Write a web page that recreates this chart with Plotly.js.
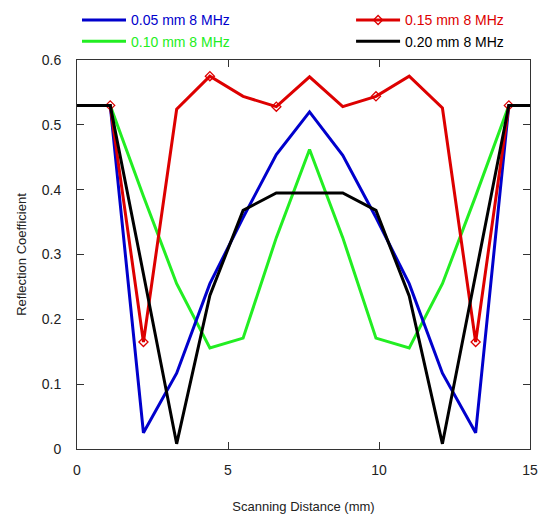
<!DOCTYPE html>
<html>
<head>
<meta charset="utf-8">
<script src="https://cdn.plot.ly/plotly-3.0.1.min.js"></script>
<style>html,body{margin:0;padding:0;background:#fff;}#chart{width:541px;height:518px;}</style>
</head>
<body>
<div id="chart"></div>
<script>
// Scanning positions (mm)
var distance = [0, 1.1, 2.2, 3.3, 4.4, 5.5, 6.6, 7.7, 8.8, 9.9, 11.0, 12.1, 13.2, 14.3, 15];
var d005 = [0.53, 0.53, 0.025, 0.117, 0.255, 0.357, 0.454, 0.52, 0.453, 0.357, 0.255, 0.117, 0.025, 0.53, 0.53];
var d010 = [0.53, 0.53, 0.39, 0.255, 0.156, 0.171, 0.326, 0.462, 0.326, 0.171, 0.156, 0.255, 0.39, 0.53, 0.53];
var d015 = [0.53, 0.53, 0.165, 0.524, 0.575, 0.544, 0.528, 0.574, 0.528, 0.544, 0.575, 0.526, 0.165, 0.53, 0.53];
var d020 = [0.53, 0.53, 0.27, 0.008, 0.237, 0.368, 0.395, 0.395, 0.395, 0.368, 0.236, 0.008, 0.27, 0.53, 0.53];
var seriesNames = ['0.05 mm 8 MHz', '0.10 mm 8 MHz', '0.15 mm 8 MHz', '0.20 mm 8 MHz'];
var redMarkedIdx = [1, 2, 4, 6, 9, 12, 13];

var colors = ['#0000CC', '#22EE22', '#DD0000', '#000000'];
function nm(i){ return '<span style="color:' + colors[i] + '">' + seriesNames[i] + '</span>'; }

var traces = [
  {x: distance, y: d010, mode: 'lines', name: nm(1), line: {color: colors[1], width: 3}, legend: 'legend', legendrank: 2},
  {x: distance, y: d005, mode: 'lines', name: nm(0), line: {color: colors[0], width: 3}, legend: 'legend', legendrank: 1},
  {x: distance, y: d015, mode: 'lines+markers', name: nm(2), line: {color: colors[2], width: 3},
   marker: {symbol: 'diamond-open', size: 7, color: colors[2], line: {width: 1.3, color: colors[2]}},
   selectedpoints: redMarkedIdx, selected: {marker: {opacity: 1}}, unselected: {marker: {opacity: 0}},
   legend: 'legend2', legendrank: 1},
  {x: distance, y: d020, mode: 'lines', name: nm(3), line: {color: colors[3], width: 3}, legend: 'legend2', legendrank: 2}
];

var fam = 'Liberation Sans, Arial, sans-serif';
var layout = {
  width: 541, height: 518,
  margin: {l: 77, r: 11, t: 60, b: 69, autoexpand: false},
  paper_bgcolor: '#fff', plot_bgcolor: '#fff',
  font: {family: fam, size: 13, color: '#222'},
  showlegend: true,
  xaxis: {
    range: [0, 15], tickvals: [0, 5, 10, 15], ticktext: ['0', '5', '10', '15'],
    ticks: 'inside', ticklen: 7, tickcolor: '#333', tickwidth: 1,
    showline: true, linecolor: '#333', linewidth: 1, mirror: 'ticks',
    showgrid: false, zeroline: false, ticklabelstandoff: 8,
    tickfont: {family: fam, size: 14, color: '#222'},
    title: {text: 'Scanning Distance (mm)', font: {family: fam, size: 13, color: '#222'}, standoff: 25}
  },
  yaxis: {
    range: [0, 0.6], tickvals: [0, 0.1, 0.2, 0.3, 0.4, 0.5, 0.6], ticktext: ['0', '0.1', '0.2', '0.3', '0.4', '0.5', '0.6'],
    ticks: 'inside', ticklen: 7, tickcolor: '#333', tickwidth: 1,
    showline: true, linecolor: '#333', linewidth: 1, mirror: 'ticks',
    showgrid: false, zeroline: false, ticklabelstandoff: 12,
    tickfont: {family: fam, size: 14, color: '#222'},
    title: {text: 'Reflection Coefficient', font: {family: fam, size: 13, color: '#222'}, standoff: 12}
  },
  legend: {x: 0.0, y: 1.143, xanchor: 'left', yanchor: 'top', orientation: 'v', bgcolor: 'rgba(0,0,0,0)',
           font: {family: fam, size: 14}, tracegroupgap: 0, traceorder: 'normal', itemwidth: 44},
  legend2: {x: 0.605, y: 1.143, xanchor: 'left', yanchor: 'top', orientation: 'v', bgcolor: 'rgba(0,0,0,0)',
           font: {family: fam, size: 14}, tracegroupgap: 0, traceorder: 'normal', itemwidth: 44}
};

Plotly.newPlot('chart', traces, layout, {displayModeBar: false, staticPlot: true});
</script>
</body>
</html>
